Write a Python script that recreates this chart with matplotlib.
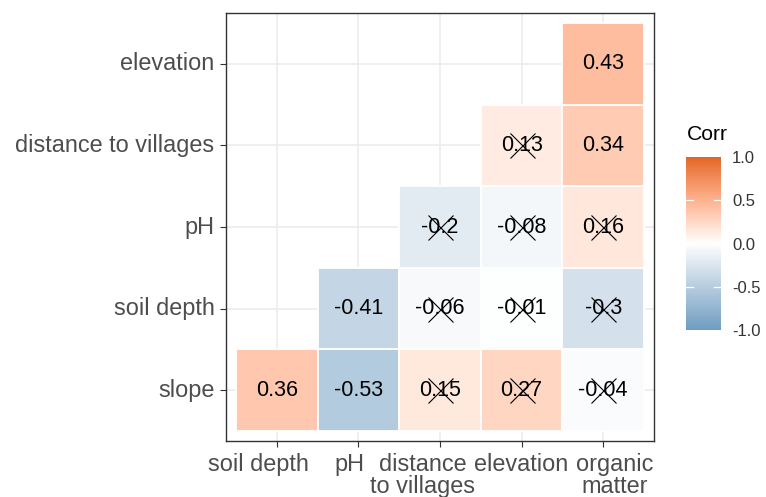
import numpy as np
import matplotlib
matplotlib.use('Agg')
from matplotlib import pyplot as plt
from matplotlib.colors import ListedColormap, Normalize, to_rgb
from matplotlib.transforms import ScaledTranslation

plt.rcParams['font.family'] = ['Liberation Sans', 'DejaVu Sans']

# variables (rows bottom -> top, columns left -> right)
row_names = ['slope', 'soil depth', 'pH', 'distance to villages', 'elevation']
col_names = ['soil depth', 'pH', 'distance\nto villages', 'elevation', 'organic\nmatter']

# lower triangle of the correlation matrix, None = not shown
corr_slope = [0.36, -0.53, 0.15, 0.27, -0.04]
corr_soil = [None, -0.41, -0.06, -0.01, -0.30]
corr_ph = [None, None, -0.20, -0.08, 0.16]
corr_dist = [None, None, None, 0.13, 0.34]
corr_elev = [None, None, None, None, 0.43]
corr = [corr_slope, corr_soil, corr_ph, corr_dist, corr_elev]

# 1 = not significant (crossed out)
insig_slope = [0, 0, 1, 1, 1]
insig_soil = [0, 0, 1, 1, 1]
insig_ph = [0, 0, 1, 1, 1]
insig_dist = [0, 0, 0, 1, 0]
insig_elev = [0, 0, 0, 0, 0]
insig = [insig_slope, insig_soil, insig_ph, insig_dist, insig_elev]

cbar_ticks = [1.0, 0.5, 0.0, -0.5, -1.0]


# gradient2 like ggplot: interpolate in Lab space
def to_lab(rgb):
    c = np.array(rgb)
    c = np.where(c > 0.04045, ((c + 0.055) / 1.055) ** 2.4, c / 12.92)
    m = np.array([[0.4124, 0.3576, 0.1805], [0.2126, 0.7152, 0.0722], [0.0193, 0.1192, 0.9505]])
    xyz = m @ c / np.array([0.95047, 1.0, 1.08883])
    f = np.where(xyz > 0.008856, np.cbrt(xyz), 7.787 * xyz + 16 / 116)
    return np.array([116 * f[1] - 16, 500 * (f[0] - f[1]), 200 * (f[1] - f[2])])


def from_lab(lab):
    fy = (lab[0] + 16) / 116
    f = np.array([fy + lab[1] / 500, fy, fy - lab[2] / 200])
    xyz = np.where(f > 0.2069, f ** 3, (f - 16 / 116) / 7.787) * np.array([0.95047, 1.0, 1.08883])
    mi = np.array([[3.2406, -1.5372, -0.4986], [-0.9689, 1.8758, 0.0415], [0.0557, -0.2040, 1.0570]])
    c = mi @ xyz
    c = np.where(c > 0.0031308, 1.055 * np.clip(c, 0, None) ** (1 / 2.4) - 0.055, 12.92 * c)
    return np.clip(c, 0, 1)


low, mid, high = to_lab(to_rgb('#6D9EC1')), to_lab(to_rgb('#FFFFFF')), to_lab(to_rgb('#E46726'))
cols = []
for t in np.linspace(-1, 1, 256):
    if t < 0:
        cols.append(from_lab(mid + (low - mid) * (-t)))
    else:
        cols.append(from_lab(mid + (high - mid) * t))
cmap = ListedColormap(cols)
norm = Normalize(-1, 1)

W, H = 766, 497
fig = plt.figure(figsize=(W / 100, H / 100), dpi=100)
ax = fig.add_axes([226 / W, 1 - 441 / H, 428 / W, 428 / H])

pad = 10 / 82
ax.set_xlim(0.5 - pad, 5.5 + pad)
ax.set_ylim(0.5 - pad, 5.5 + pad)

for i in range(5):
    ax.axhline(i + 1, color='#EBEBEB', lw=1.1, zorder=0)
    ax.axvline(i + 1, color='#EBEBEB', lw=1.1, zorder=0)

for r, row in enumerate(corr):
    for c, v in enumerate(row):
        if v is None:
            continue
        x, y = c + 1, r + 1
        ax.add_patch(plt.Rectangle((x - 0.5, y - 0.5), 1, 1, facecolor=cmap(norm(v)),
                                   edgecolor='white', lw=1.3, zorder=1))
        ax.text(x, y, f'{v:g}', ha='center', va='center', fontsize=15.5, color='black', zorder=2)
        if insig[r][c]:
            ax.plot(x, y, marker='x', ms=18, mew=0.8, color='black', zorder=3)

ax.set_xticks(range(1, 6))
ax.set_xticklabels(col_names, linespacing=0.95)
ax.set_yticks(range(1, 6))
ax.set_yticklabels(row_names, va='center')
ax.tick_params(axis='both', length=4.3, width=0.8, color='#333333',
               labelcolor='#4D4D4D', labelsize=16.9, pad=4)
# x labels sit a little off their ticks in the original
shifts = [-18, -9, -17, 0, 11]
for lab, dx in zip(ax.get_xticklabels(), shifts):
    lab.set_transform(lab.get_transform() + ScaledTranslation(dx / 100, 0, fig.dpi_scale_trans))
for s in ax.spines.values():
    s.set_color('#333333')
    s.set_linewidth(1.0)

# colour bar legend
cax = fig.add_axes([686 / W, 1 - 330 / H, 35 / W, 173 / H])
grad = np.linspace(-1, 1, 256).reshape(-1, 1)
cax.imshow(grad, cmap=cmap, norm=norm, aspect='auto', origin='lower', extent=[0, 1, -1, 1])
cax.set_xlim(0, 1)
cax.set_ylim(-1, 1)
for t in cbar_ticks:
    if abs(t) < 1:
        cax.plot([0, 0.2], [t, t], color='white', lw=0.9)
        cax.plot([0.8, 1], [t, t], color='white', lw=0.9)
cax.set_xticks([])
cax.yaxis.tick_right()
cax.set_yticks(cbar_ticks)
cax.set_yticklabels([f'{t:.1f}' for t in cbar_ticks])
cax.tick_params(axis='y', length=0, pad=8, labelsize=12, labelcolor='#333333')
for s in cax.spines.values():
    s.set_visible(False)
fig.text(687 / W, 1 - 135 / H, 'Corr', fontsize=15.2, ha='left', va='center', color='black')

fig.savefig('out.png', dpi=100)
